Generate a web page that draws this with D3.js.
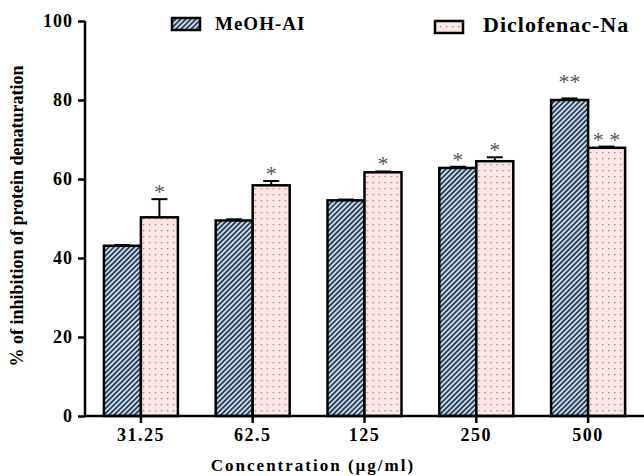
<!DOCTYPE html>
<html><head><meta charset="utf-8">
<script src="https://cdn.jsdelivr.net/npm/d3@7"></script>
<style>
body{margin:0;background:#fff}
svg text{font-family:"Liberation Serif","Times New Roman",serif;font-weight:bold}
</style></head>
<body><div id="chart"></div>
<script>
const concentrations = ["31.25", "62.5", "125", "250", "500"];
const seriesNames = ["MeOH-AI", "Diclofenac-Na"];
const meohValues = [43.1, 49.5, 54.6, 62.8, 80.0];
const meohErrors = [0.2, 0.3, 0.2, 0.3, 0.4];
const dicloValues = [50.3, 58.4, 61.7, 64.5, 67.9];
const dicloErrors = [4.6, 1.1, 0.2, 1.0, 0.3];
const meohStars = ["", "", "", "*", "**"];
const dicloStars = ["*", "*", "*", "*", "* *"];
const yTicks = [0, 20, 40, 60, 80, 100];

const W = 644, H = 476;
const svg = d3.select("#chart").append("svg").attr("width", W).attr("height", H);
const defs = svg.append("defs");

const hatch = defs.append("pattern").attr("id", "hatch").attr("patternUnits", "userSpaceOnUse")
  .attr("width", 3.6).attr("height", 3.6).attr("patternTransform", "rotate(45)");
hatch.append("rect").attr("width", 3.6).attr("height", 3.6).attr("fill", "#c9dcec");
hatch.append("rect").attr("width", 1.8).attr("height", 3.6).attr("fill", "#2e3d55");

const dots = defs.append("pattern").attr("id", "dots").attr("patternUnits", "userSpaceOnUse")
  .attr("width", 6).attr("height", 6);
dots.append("rect").attr("width", 6).attr("height", 6).attr("fill", "#fde6e6");
dots.append("rect").attr("x", 2).attr("y", 2).attr("width", 1.3).attr("height", 1.3).attr("fill", "#a07878");

const x = d3.scaleBand().domain(concentrations).range([85, 644]).paddingInner(0).paddingOuter(0);
const y = d3.scaleLinear().domain([0, 100]).range([416, 21]);
const sub = d3.scaleBand().domain(seriesNames).range([-37, 37]);

const rows = concentrations.map((c, i) => ({ c, series: [
  { name: seriesNames[0], v: meohValues[i], e: meohErrors[i], s: meohStars[i], fill: "url(#hatch)" },
  { name: seriesNames[1], v: dicloValues[i], e: dicloErrors[i], s: dicloStars[i], fill: "url(#dots)" }
]}));

const grp = svg.append("g").selectAll("g").data(rows).join("g")
  .attr("transform", d => `translate(${x(d.c) + x.bandwidth() / 2},0)`);

const bar = grp.selectAll("g").data(d => d.series).join("g");
const mid = d => sub(d.name) + sub.bandwidth() / 2;
bar.append("line")
  .attr("x1", mid).attr("x2", mid)
  .attr("y1", d => y(d.v)).attr("y2", d => y(d.v + d.e)).attr("stroke", "#000").attr("stroke-width", 2);
bar.append("line")
  .attr("x1", d => mid(d) - 8).attr("x2", d => mid(d) + 8)
  .attr("y1", d => y(d.v + d.e)).attr("y2", d => y(d.v + d.e)).attr("stroke", "#000").attr("stroke-width", 2);
bar.append("rect")
  .attr("x", d => sub(d.name)).attr("width", sub.bandwidth())
  .attr("y", d => y(d.v)).attr("height", d => y(0) - y(d.v))
  .attr("fill", d => d.fill).attr("stroke", "#000").attr("stroke-width", 2.5);
bar.append("text")
  .attr("x", mid).attr("y", d => y(d.v + d.e) - (d.s === "**" ? 9 : 0))
  .attr("text-anchor", "middle").attr("fill", "#555").style("font-weight", "normal").style("font-size", "22px")
  .text(d => d.s);

// axes
const yAxis = svg.append("g").attr("transform", "translate(85,0)")
  .call(d3.axisLeft(y).tickValues(yTicks).tickSize(7).tickPadding(5));
const xAxis = svg.append("g").attr("transform", "translate(0,416)")
  .call(d3.axisBottom(x).tickSize(7).tickPadding(5));
[yAxis, xAxis].forEach(a => {
  a.attr("font-family", null).attr("font-size", null);
  a.select(".domain").attr("stroke", "#000").attr("stroke-width", 2.5);
  a.selectAll(".tick line").attr("stroke", "#000").attr("stroke-width", 2.5);
  a.selectAll("text").style("font-size", "18px").attr("fill", "#000");
});
xAxis.selectAll("text").style("letter-spacing", "1.5px");
yAxis.selectAll("text").style("letter-spacing", "1px");
yAxis.select(".domain").attr("d", "M0,416V21");
xAxis.select(".domain").attr("d", "M85,0H644");

svg.append("text").attr("transform", "translate(23,216) rotate(-90)").attr("text-anchor", "middle")
  .style("font-size", "18px").text("% of inhibition of protein denaturation");
svg.append("text").attr("x", 313).attr("y", 471).attr("text-anchor", "middle")
  .style("font-size", "17px").style("letter-spacing", "2px").text("Concentration (µg/ml)");

// legend
const legend = [
  { name: seriesNames[0], fill: "url(#hatch)", x: 172, y: 18, tx: 215, ty: 30, size: 19 },
  { name: seriesNames[1], fill: "url(#dots)", x: 435, y: 21, tx: 483, ty: 32, size: 22 }
];
const lg = svg.append("g").selectAll("g").data(legend).join("g");
lg.append("rect").attr("x", d => d.x).attr("y", d => d.y).attr("width", 28).attr("height", 12)
  .attr("fill", d => d.fill).attr("stroke", "#000").attr("stroke-width", 2.5);
lg.append("text").attr("x", d => d.tx).attr("y", d => d.ty).style("font-size", d => d.size + "px")
  .style("letter-spacing", "1px").text(d => d.name);
</script></body></html>
